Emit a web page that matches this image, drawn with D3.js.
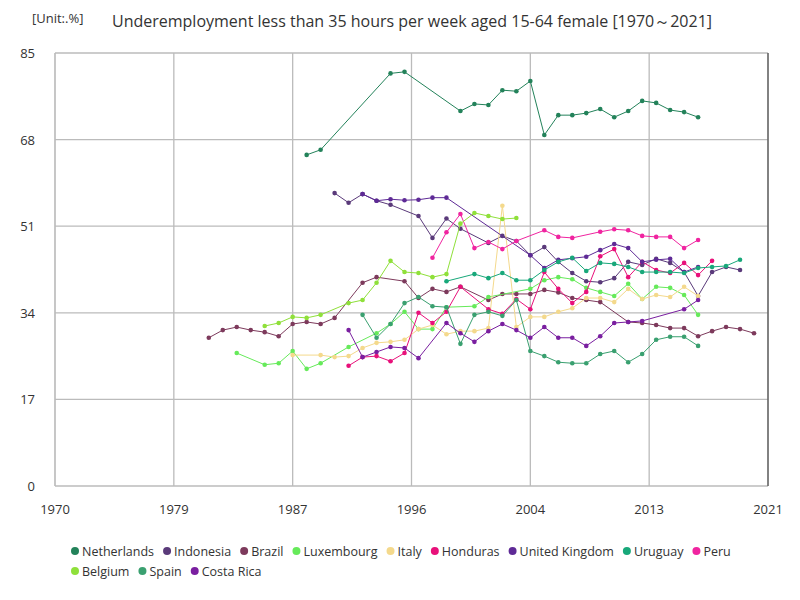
<!DOCTYPE html>
<html><head><meta charset="utf-8">
<script src="https://cdn.jsdelivr.net/npm/d3@7"></script>
<style>body{margin:0;background:#fff;font-family:"Open Sans",sans-serif;}</style>
</head><body><svg id="canvas"></svg>
<script>
var svg = d3.select("#canvas").attr("width", 800).attr("height", 600);
var margin = {top: 53, right: 32, bottom: 114, left: 55};
var width = 800 - margin.left - margin.right;
var height = 600 - margin.top - margin.bottom;

var xTicks = [1970, 1978.5, 1987, 1995.5, 2004, 2012.5, 2021];
var xTickLabels = ["1970", "1979", "1987", "1996", "2004", "2013", "2021"];
var yTicks = [0, 17, 34, 51, 68, 85];

// [year, value]
var netherlands = [[1988,65],[1989,66],[1994,81],[1995,81.3],[1999,73.6],[2000,75],[2001,74.8],[2002,77.7],[2003,77.5],[2004,79.5],[2005,68.9],[2006,72.8],[2007,72.8],[2008,73.2],[2009,74],[2010,72.4],[2011,73.6],[2012,75.6],[2013,75.2],[2014,73.8],[2015,73.4],[2016,72.4]];
var indonesia = [[1990,57.5],[1991,55.6],[1992,57.3],[1993,56],[1994,55.2],[1996,53],[1997,48.7],[1998,52.5],[1999,50.5],[2001,47.7],[2002,49.1],[2003,48.1],[2004,45.3],[2005,46.9],[2006,44],[2007,41.8],[2008,40.2],[2009,40],[2010,40.8],[2011,44],[2012,43.4],[2013,44.6],[2014,43.8],[2015,42],[2016,37.3],[2017,42],[2018,43],[2019,42.4]];
var brazil = [[1981,29.1],[1982,30.6],[1983,31.2],[1984,30.6],[1985,30.2],[1986,29.4],[1987,31.8],[1988,32.2],[1989,31.8],[1990,33],[1992,39.9],[1993,41],[1995,40.2],[1996,36.9],[1997,38.7],[1998,38.1],[1999,39.1],[2001,36.5],[2002,37.7],[2003,37.7],[2004,37.7],[2005,38.5],[2006,38],[2007,36.9],[2008,36.5],[2009,36.1],[2011,32.2],[2012,32],[2013,31.6],[2014,31],[2015,31],[2016,29.4],[2017,30.4],[2018,31.2],[2019,30.8],[2020,30]];
var luxembourg = [[1983,26.1],[1985,23.8],[1986,24.1],[1987,26.5],[1988,23],[1989,24.1],[1991,27.3],[1993,30],[1994,31.8],[1995,34.2],[1996,30.8],[1997,30.8],[1998,35.1],[2000,35.3],[2001,37.1],[2004,38.7],[2005,40.4],[2006,41],[2007,40.6],[2008,38.9],[2009,38.1],[2010,37.3],[2011,39.7],[2012,36.7],[2013,39.1],[2014,38.9],[2015,37.5],[2016,33.6]];
var italy = [[1987,25.7],[1989,25.7],[1990,25.3],[1991,25.5],[1992,27.1],[1993,28.1],[1994,28.3],[1995,28.7],[1996,30.8],[1997,31.6],[1998,29.8],[1999,30.4],[2000,30.4],[2001,31],[2002,55],[2003,31.2],[2004,33.2],[2005,33.2],[2006,34.2],[2007,34.9],[2008,36.9],[2009,36.9],[2010,36.1],[2011,38.7],[2012,36.7],[2013,37.5],[2014,37.1],[2015,39.1],[2016,37.3]];
var honduras = [[1991,23.6],[1992,25.3],[1993,25.5],[1994,24.5],[1995,26.1],[1996,34],[1997,32],[1998,34.2],[1999,39.1],[2001,34.7],[2002,33.8],[2003,36.7],[2004,34.7],[2005,42],[2006,38.7],[2007,35.9],[2008,38.1],[2009,45.1],[2010,46.5],[2011,41],[2012,44],[2013,42.4],[2014,41.8],[2015,43.8],[2016,41.4],[2017,44.2]];
var unitedKingdom = [[1992,57.3],[1993,56],[1994,56.3],[1995,56.1],[1996,56.2],[1997,56.6],[1998,56.6],[2004,45.3],[2005,42.8],[2006,44.4],[2007,44.7],[2008,45],[2009,46.3],[2010,47.5],[2011,46.7],[2012,44],[2013,44.4],[2014,44.6],[2015,42],[2016,43]];
var uruguay = [[1998,40.2],[2000,41.6],[2001,40.8],[2002,41.8],[2003,40.4],[2004,40.4],[2005,42.4],[2006,44],[2007,44.8],[2008,42.2],[2009,43.8],[2010,43.6],[2011,43],[2012,42],[2013,42],[2014,42],[2015,41.8],[2016,42.8],[2017,43],[2018,43.2],[2019,44.4]];
var peru = [[1997,44.8],[1998,49.8],[1999,53.4],[2000,46.7],[2001,47.9],[2002,46.5],[2003,48.1],[2005,50.2],[2006,48.9],[2007,48.7],[2009,49.9],[2010,50.4],[2011,50.2],[2012,49.1],[2013,48.9],[2014,48.9],[2015,46.7],[2016,48.3]];
var belgium = [[1985,31.4],[1986,32],[1987,33.2],[1988,33],[1989,33.6],[1991,35.9],[1992,36.5],[1993,39.9],[1994,44.2],[1995,42],[1996,41.8],[1997,41],[1998,41.6],[1999,51.5],[2000,53.6],[2001,53],[2002,52.4],[2003,52.6]];
var spain = [[1992,33.6],[1993,29.1],[1994,31.8],[1995,35.9],[1996,37.1],[1997,35.3],[1998,35.1],[1999,27.9],[2000,33.6],[2001,34.2],[2002,33.4],[2003,36.5],[2004,26.5],[2005,25.5],[2006,24.3],[2007,24.1],[2008,24.1],[2009,25.9],[2010,26.5],[2011,24.3],[2012,25.9],[2013,28.7],[2014,29.3],[2015,29.3],[2016,27.5]];
var costaRica = [[1991,30.6],[1992,25.3],[1993,26.3],[1994,27.3],[1995,27.1],[1996,25.1],[1998,32],[1999,30],[2000,28.3],[2001,30.4],[2002,31.8],[2003,30.6],[2004,29.1],[2005,31.2],[2006,29.1],[2007,29.1],[2008,27.5],[2009,29.4],[2010,32],[2011,32.2],[2012,32.4],[2015,34.7],[2016,36.5]];

var seriesNames = ["Netherlands","Indonesia","Brazil","Luxembourg","Italy","Honduras","United Kingdom","Uruguay","Peru","Belgium","Spain","Costa Rica"];
var seriesData = [netherlands, indonesia, brazil, luxembourg, italy, honduras, unitedKingdom, uruguay, peru, belgium, spain, costaRica];
var seriesColors = ["#23825a","#5a3a7a","#7d3a5c","#66ea5a","#f4d98c","#e8107a","#5e2a96","#18a87a","#f024a0","#8fe03a","#3aa070","#7a1fa0"];

var x = d3.scaleLinear().domain([1970, 2021]).range([0, width]);
var y = d3.scaleLinear().domain([0, 85]).range([height, 0]);

var g = svg.append("g").attr("transform", "translate(" + margin.left + "," + margin.top + ")");

// grid
g.selectAll(".vg").data(xTicks).enter().append("line")
    .attr("x1", function(d){return x(d);}).attr("x2", function(d){return x(d);})
    .attr("y1", 0).attr("y2", height).attr("stroke", "#bbb").attr("stroke-width", 1.3);
g.selectAll(".hg").data(yTicks).enter().append("line")
    .attr("x1", 0).attr("x2", width)
    .attr("y1", function(d){return y(d);}).attr("y2", function(d){return y(d);})
    .attr("stroke", "#bbb").attr("stroke-width", 1.3);
g.append("line").attr("x1", width).attr("x2", width).attr("y1", 0).attr("y2", height).attr("stroke", "#333");
g.append("line").attr("x1", 0).attr("x2", 0).attr("y1", 0).attr("y2", height).attr("stroke", "#bbb");

g.selectAll(".xl").data(xTicks).enter().append("text")
    .attr("x", function(d){return x(d);}).attr("y", height + 28)
    .attr("text-anchor", "middle").attr("font-size", 13).attr("fill", "#333")
    .text(function(d, i){return xTickLabels[i];});
g.selectAll(".yl").data(yTicks).enter().append("text")
    .attr("x", -20).attr("y", function(d){return y(d) + 5;})
    .attr("text-anchor", "end").attr("font-size", 13).attr("fill", "#333")
    .text(function(d){return d;});

var line = d3.line().x(function(d){return x(d[0]);}).y(function(d){return y(d[1]);});

seriesData.forEach(function(data, i){
    g.append("path").datum(data).attr("d", line)
        .attr("fill", "none").attr("stroke", seriesColors[i]).attr("stroke-width", 1);
    g.selectAll(".pt" + i).data(data).enter().append("circle")
        .attr("cx", function(d){return x(d[0]);}).attr("cy", function(d){return y(d[1]);})
        .attr("r", 2.3).attr("fill", seriesColors[i]);
});

svg.append("text").attr("x", 32).attr("y", 23).attr("font-size", 13).attr("fill", "#333").text("[Unit:.%]");
svg.append("text").attr("x", 412).attr("y", 27).attr("text-anchor", "middle").attr("font-size", 16).attr("fill", "#333")
    .text("Underemployment less than 35 hours per week aged 15-64 female [1970～2021]");

// legend
var lx = 75, ly = 551;
seriesNames.forEach(function(name, i){
    if (i == 9) { lx = 75; ly = 571; }
    svg.append("circle").attr("cx", lx).attr("cy", ly).attr("r", 4).attr("fill", seriesColors[i]);
    var t = svg.append("text").attr("x", lx + 7).attr("y", ly + 4.5).attr("font-size", 12.5).attr("fill", "#333").text(name);
    lx += t.node().getComputedTextLength() + 20;
});
</script></body></html>
